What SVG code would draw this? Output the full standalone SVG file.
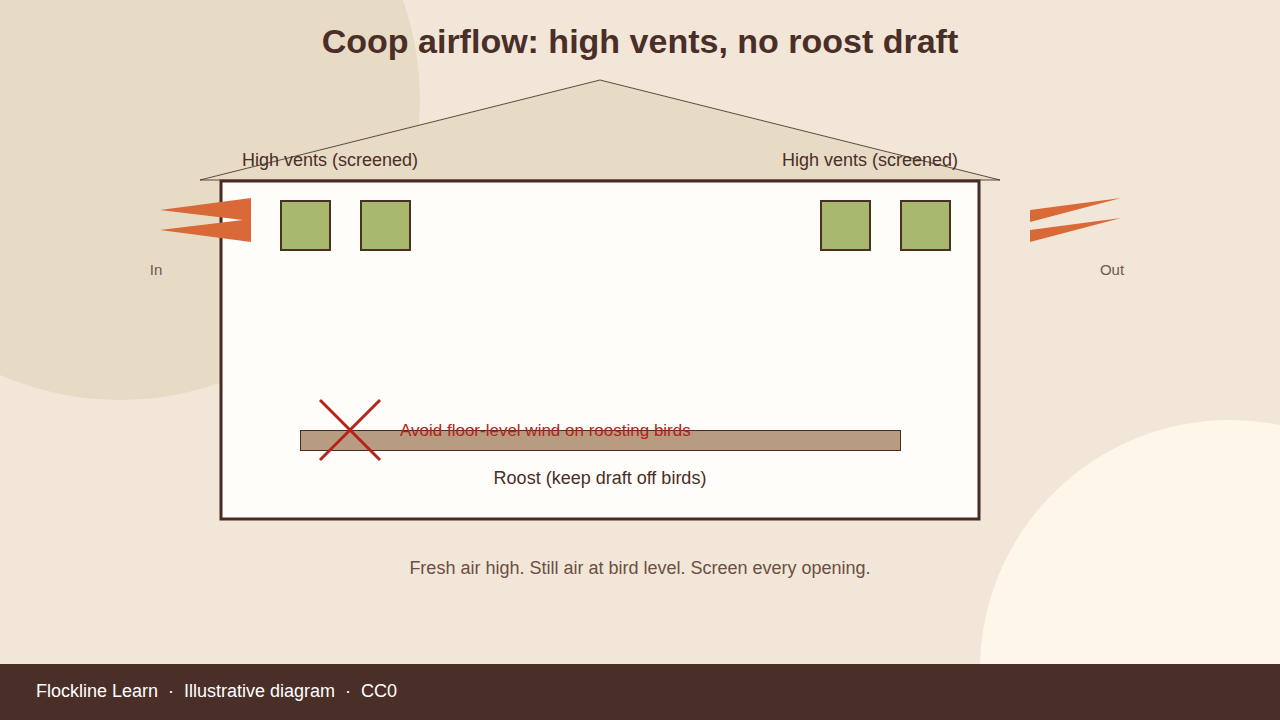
<svg xmlns="http://www.w3.org/2000/svg" width="1280" height="720" viewBox="0 0 1280 720">
<style>
text{font-family:"Liberation Sans",Arial,sans-serif}
.vent{fill:#a8b86e;stroke:#4a3222;stroke-width:2}
.flow{fill:#d96a38}
.lbl{font-size:18px;fill:#4a2e28}
.side{font-size:15px;fill:#6d5a4e}
</style>
<rect width="1280" height="720" fill="#f2e6d8"/>
<circle cx="120" cy="100" r="300" fill="#e8dbc6"/>
<circle cx="1230" cy="670" r="250" fill="#fff6ea"/>
<text x="640" y="53" text-anchor="middle" font-size="34" font-weight="bold" fill="#4a2e28">Coop airflow: high vents, no roost draft</text>
<g id="roof"><polygon points="200,180 600,80 1000,180" fill="#e8dbc6" stroke="#3a2218" stroke-width="0.8"/></g>
<g id="coop"><rect x="221" y="181" width="758" height="338" fill="#fffdf9" stroke="#4a2a24" stroke-width="3"/></g>
<g id="vents-left">
<rect class="vent" x="281" y="201" width="49" height="49"/>
<rect class="vent" x="361" y="201" width="49" height="49"/>
<text class="lbl" x="330" y="166" text-anchor="middle">High vents (screened)</text>
</g>
<g id="vents-right">
<rect class="vent" x="821" y="201" width="49" height="49"/>
<rect class="vent" x="901" y="201" width="49" height="49"/>
<text class="lbl" x="870" y="166" text-anchor="middle">High vents (screened)</text>
</g>
<g id="connectors">
<polygon class="flow" points="160,210 251,198 251,221"/>
<polygon class="flow" points="160,230 251,219 251,242"/>
<polygon class="flow" points="1030,210 1030,222 1121,198"/>
<polygon class="flow" points="1030,230 1030,242 1121,218"/>
</g>
<g id="in"><text class="side" x="156" y="275" text-anchor="middle">In</text></g>
<g id="out"><text class="side" x="1112" y="275" text-anchor="middle">Out</text></g>
<g id="roost">
<rect x="300.5" y="430.5" width="600" height="20" fill="#b89c82" stroke="#4a2a24" stroke-width="1"/>
<text class="lbl" x="600" y="484" text-anchor="middle">Roost (keep draft off birds)</text>
</g>
<g id="warning">
<line x1="320" y1="400" x2="380" y2="460" stroke="#b5231a" stroke-width="3"/>
<line x1="380" y1="400" x2="320" y2="460" stroke="#b5231a" stroke-width="3"/>
<text x="400" y="436" font-size="17" fill="#b5231a">Avoid floor-level wind on roosting birds</text>
</g>
<text x="640" y="574" text-anchor="middle" font-size="18" fill="#6b4f44">Fresh air high. Still air at bird level. Screen every opening.</text>
<rect x="0" y="664" width="1280" height="56" fill="#4a2e28"/>
<text x="36" y="697" font-size="18" fill="#ffffff" xml:space="preserve">Flockline Learn  ·  Illustrative diagram  ·  CC0</text>
</svg>
